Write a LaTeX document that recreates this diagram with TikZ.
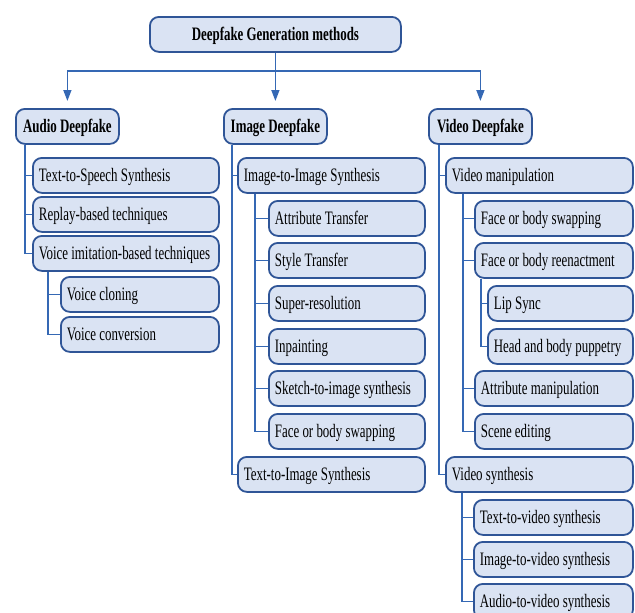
\documentclass[tikz,border=0pt]{standalone}
\usepackage{fontspec}
\setmainfont{Liberation Serif}[FakeStretch=0.68]
\usetikzlibrary{arrows.meta}
\definecolor{boxfill}{HTML}{DAE3F3}
\definecolor{boxline}{HTML}{2F5597}
\definecolor{linkblue}{HTML}{3568B4}

\begin{document}
\begin{tikzpicture}[x=1pt, y=-1pt,
  every node/.style={draw=boxline, fill=boxfill, line width=1.8pt, rounded corners=9pt,
    font=\fontsize{19}{22}\selectfont, minimum height=35pt, text height=13pt, text depth=0pt, inner ysep=0pt},
  topbox/.style={font=\fontsize{19}{22}\selectfont\bfseries, anchor=north west, minimum width=#1},
  item/.style={anchor=north west, align=left, inner xsep=6pt, text width=#1,
    execute at begin node={\spaceskip=0pt\xspaceskip=0pt\hyphenpenalty=10000}},
  link/.style={draw=linkblue, line width=1.5pt},
  arrow/.style={link, -{Triangle[length=11pt,width=8pt]}, shorten >=7pt}]
  \useasboundingbox (0,0) rectangle (635,613);

  % top levels
  \node[topbox=251pt] (root) at (149,16) {Deepfake Generation methods};
  \node[topbox=103pt] (audio) at (15,108) {Audio Deepfake};
  \node[topbox=103pt] (image) at (223,108) {Image Deepfake};
  \node[topbox=103pt] (video) at (428,108) {Video Deepfake};

  % audio
  \node[item=174pt] (tts) at (32,157) {Text-to-Speech Synthesis};
  \node[item=174pt] (replay) at (32,196) {Replay-based techniques};
  \node[item=174pt] (voiceimit) at (32,235) {Voice imitation-based techniques};
  \node[item=146pt] (cloning) at (60,276) {Voice cloning};
  \node[item=146pt] (conversion) at (60,316) {Voice conversion};

  % image
  \node[item=175pt] (i2i) at (237,157) {Image-to-Image Synthesis};
  \node[item=144pt] (attr) at (268,200) {Attribute Transfer};
  \node[item=144pt] (style) at (268,242) {Style Transfer};
  \node[item=144pt] (superres) at (268,285) {Super-resolution};
  \node[item=144pt] (inpaint) at (268,328) {Inpainting};
  \node[item=144pt] (sketch) at (268,370) {Sketch-to-image synthesis};
  \node[item=144pt] (swapimg) at (268,413) {Face or body swapping};
  \node[item=175pt] (t2i) at (237,456) {Text-to-Image Synthesis};

  % video
  \node[item=175pt] (vm) at (445,157) {Video manipulation};
  \node[item=146pt] (swapvid) at (474,200) {Face or body swapping};
  \node[item=146pt] (reenact) at (474,242) {Face or body reenactment};
  \node[item=133pt] (lipsync) at (487,285) {Lip Sync};
  \node[item=133pt] (puppetry) at (487,328) {Head and body puppetry};
  \node[item=146pt] (attrm) at (474,370) {Attribute manipulation};
  \node[item=146pt] (scene) at (474,413) {Scene editing};
  \node[item=175pt] (vs) at (445,456) {Video synthesis};
  \node[item=147pt] (t2v) at (473,499) {Text-to-video synthesis};
  \node[item=147pt] (i2v) at (473,541) {Image-to-video synthesis};
  \node[item=147pt] (a2v) at (473,583) {Audio-to-video synthesis};

  % arrows from the root
  \draw[link] (root.south) -- ++(0,18) coordinate (hub);
  \draw[arrow] (hub) -| (audio.north);
  \draw[arrow] (hub) -- (image.north);
  \draw[arrow] (hub) -| (video.north);

  % branches
  \foreach \c in {tts,replay,voiceimit}
    \draw[link] ([xshift=10pt]audio.south west) |- (\c.west);
  \foreach \c in {cloning,conversion}
    \draw[link] ([xshift=16pt]voiceimit.south west) |- (\c.west);
  \foreach \c in {i2i,t2i}
    \draw[link] ([xshift=9pt]image.south west) |- (\c.west);
  \foreach \c in {attr,style,superres,inpaint,sketch,swapimg}
    \draw[link] ([xshift=18pt]i2i.south west) |- (\c.west);
  \foreach \c in {vm,vs}
    \draw[link] ([xshift=11pt]video.south west) |- (\c.west);
  \foreach \c in {swapvid,reenact,attrm,scene}
    \draw[link] ([xshift=18pt]vm.south west) |- (\c.west);
  \foreach \c in {lipsync,puppetry}
    \draw[link] ([xshift=7pt]reenact.south west) |- (\c.west);
  \foreach \c in {t2v,i2v,a2v}
    \draw[link] ([xshift=17pt]vs.south west) |- (\c.west);
\end{tikzpicture}
\end{document}
